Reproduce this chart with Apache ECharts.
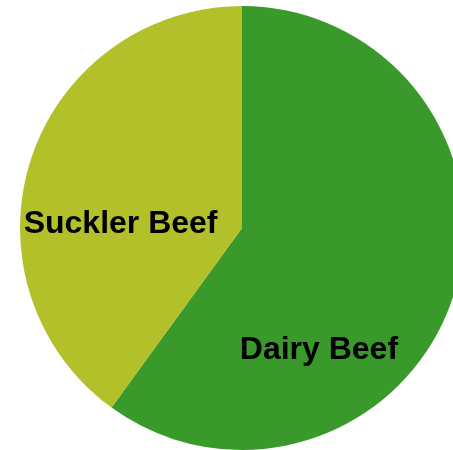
<!DOCTYPE html>
<html>
<head>
<meta charset="utf-8">
<script src="https://cdn.jsdelivr.net/npm/echarts@6/dist/echarts.min.js"></script>
<style>
html,body{margin:0;padding:0;background:#fff;}
#chart{width:453px;height:450px;}
</style>
</head>
<body>
<div id="chart"></div>
<script>
const categories = ['Dairy Beef', 'Suckler Beef'];
const values = [60, 40];
const colors = ['#399a2b', '#b2c12a'];
const labelShift = [[-31.5, 87], [-13, 31]];

const chart = echarts.init(document.getElementById('chart'));
chart.setOption({
  animation: false,
  series: [{
    type: 'pie',
    center: [242, 228],
    radius: 222,
    startAngle: 90,
    clockwise: true,
    data: categories.map((c, i) => ({ name: c, value: values[i], itemStyle: { color: colors[i] } })),
    label: {
      show: true,
      position: 'inside',
      formatter: '{b}',
      color: '#000',
      fontFamily: 'Liberation Sans, Arial, sans-serif',
      fontWeight: 'bold',
      fontSize: 32
    },
    labelLine: { show: false },
    labelLayout: function (p) {
      return { dx: labelShift[p.dataIndex][0], dy: labelShift[p.dataIndex][1] };
    },
    itemStyle: { borderWidth: 0 },
    emphasis: { disabled: true }
  }]
});
</script>
</body>
</html>
